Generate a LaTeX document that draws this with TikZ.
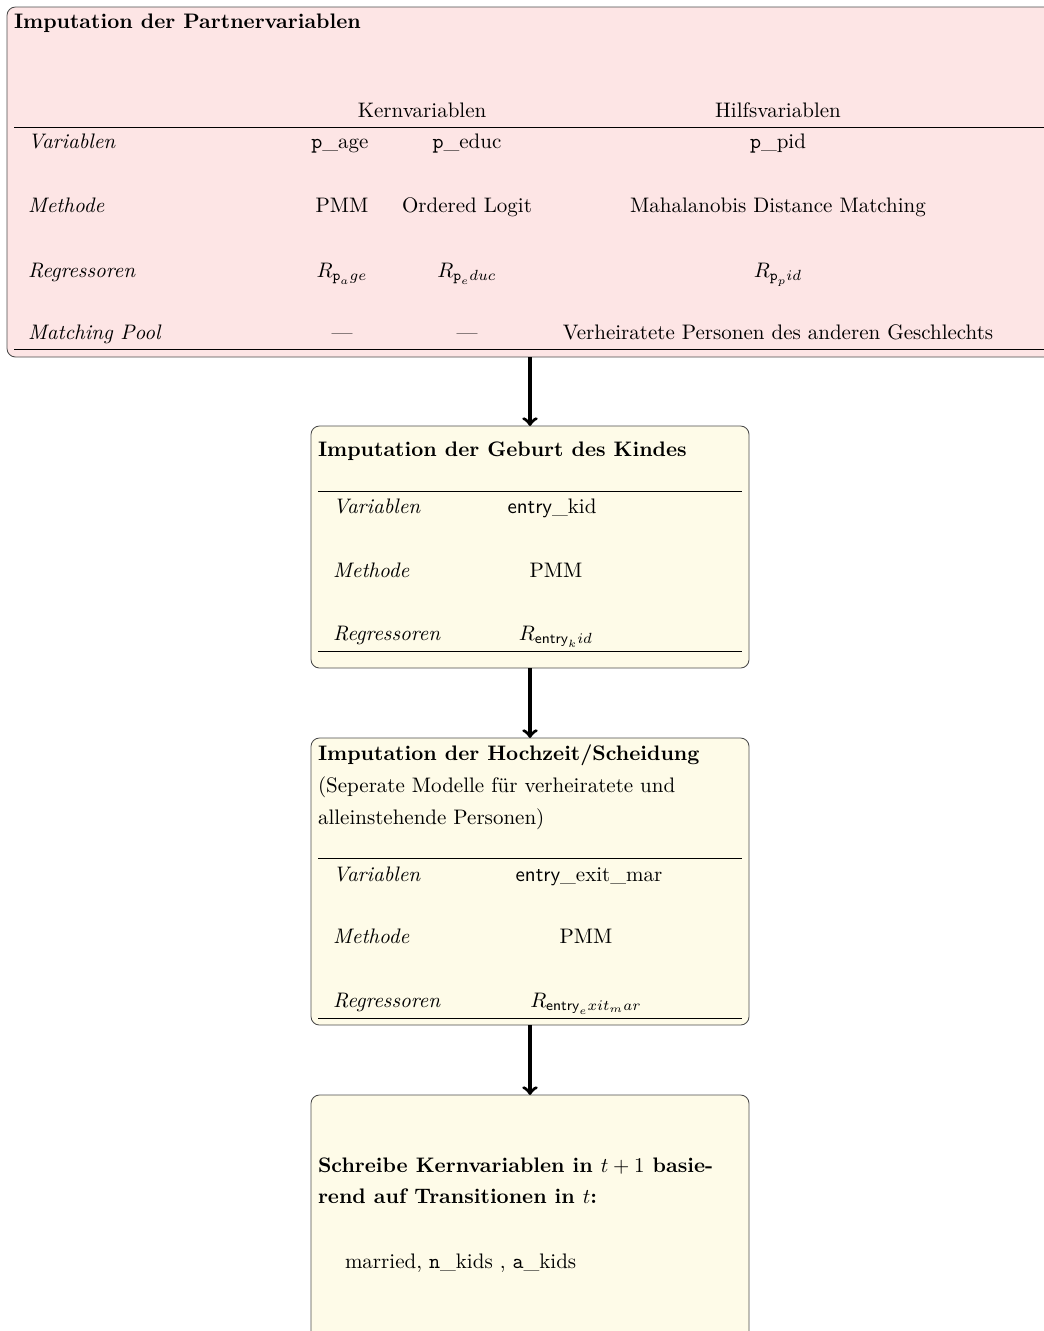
\documentclass[tikz,border=0pt]{standalone}
\usepackage{amsmath}
\usepackage{tikz}
\usetikzlibrary{fit}

\definecolor{partnerred}{RGB}{253,229,229}
\definecolor{stepyellow}{RGB}{254,251,232}

\begin{document}
\begin{tikzpicture}[x=0.47619pt,y=-0.47619pt,>=to]
    \tikzstyle{every node}=[inner sep=0pt,outer sep=0pt];
    \tikzstyle{box}=[draw=black!70,rounded corners=4pt,inner sep=0pt];
    \tikzstyle{boxtitle}=[anchor=base west,font=\bfseries];
    \tikzstyle{rowlabel}=[anchor=base west,font=\itshape];
    \tikzstyle{cell}=[anchor=base];
    \tikzstyle{tablerule}=[draw,line width=0.45pt];
    \tikzstyle{flow}=[->,line width=1.6pt];

    \useasboundingbox (0,0) rectangle (1043,1331);

    % Partnervariablen
    \node[box,fill=partnerred,fit={(7,7) (1080,357)}] (partner) {};
    \node[boxtitle] (ptitle) at (14,28) {Imputation der Partnervariablen};
    \node[cell] (kern) at (422,117) {Kernvariablen};
    \node[cell] (hilf) at (778,117) {Hilfsvariablen};
    \draw[tablerule] (14,127) -- (1080,127);
    \node[rowlabel] (pvar) at (28,148) {Variablen};
    \node[cell] (page) at (340,148) {\texttt{p}\_age};
    \node[cell] (peduc) at (467,148) {\texttt{p}\_educ};
    \node[cell] (ppid) at (778,148) {\texttt{p}\_pid};
    \node[rowlabel] (pmeth) at (28,212) {Methode};
    \node[cell] (pmm1) at (342,212) {PMM};
    \node[cell] (ologit) at (467,212) {Ordered Logit};
    \node[cell] (mahal) at (778,212) {Mahalanobis Distance Matching};
    \node[rowlabel] (preg) at (28,277) {Regressoren};
    \node[cell] (rage) at (342,277) {$R_{\texttt{p}_age}$};
    \node[cell] (reduc) at (467,277) {$R_{\texttt{p}_educ}$};
    \node[cell] (rpid) at (778,277) {$R_{\texttt{p}_pid}$};
    \node[rowlabel] (ppool) at (28,339) {Matching Pool};
    \node[cell] (pool1) at (342,339) {---};
    \node[cell] (pool2) at (467,339) {---};
    \node[cell] (pool3) at (778,339) {Verheiratete Personen des anderen Geschlechts};
    \draw[tablerule] (14,349) -- (1080,349);

    % Geburt des Kindes
    \node[box,fill=stepyellow,fit={(311,426) (749,668)}] (kid) {};
    \node[boxtitle] (ktitle) at (318,456) {Imputation der Geburt des Kindes};
    \draw[tablerule] (318,491) -- (742,491);
    \node[rowlabel] (kvar) at (333,513) {Variablen};
    \node[cell] (kentry) at (552,513) {\textsf{entry}\_kid};
    \node[rowlabel] (kmeth) at (333,577) {Methode};
    \node[cell] (pmm2) at (556,577) {PMM};
    \node[rowlabel] (kreg) at (333,640) {Regressoren};
    \node[cell] (rkid) at (556,640) {$R_{\textsf{entry}_kid}$};
    \draw[tablerule] (318,651) -- (742,651);

    % Hochzeit/Scheidung
    \node[box,fill=stepyellow,fit={(311,738) (749,1025)}] (mar) {};
    \node[boxtitle] (mtitle) at (318,760) {Imputation der Hochzeit/Scheidung};
    \node[anchor=base west] (mnote1) at (318,792) {(Seperate Modelle f\"ur verheiratete und};
    \node[anchor=base west] (mnote2) at (318,824) {alleinstehende Personen)};
    \draw[tablerule] (318,858) -- (742,858);
    \node[rowlabel] (mvar) at (333,881) {Variablen};
    \node[cell] (mentry) at (589,881) {\textsf{entry}\_exit\_mar};
    \node[rowlabel] (mmeth) at (333,943) {Methode};
    \node[cell] (pmm3) at (586,943) {PMM};
    \node[rowlabel] (mreg) at (333,1007) {Regressoren};
    \node[cell] (rmar) at (586,1007) {$R_{\textsf{entry}_exit_mar}$};
    \draw[tablerule] (318,1018) -- (742,1018);

    % Kernvariablen schreiben
    \node[box,fill=stepyellow,fit={(311,1095) (749,1400)}] (write) {};
    \node[boxtitle] (wtitle1) at (318,1172) {Schreibe Kernvariablen in $t+1$ basie-};
    \node[boxtitle] (wtitle2) at (318,1203) {rend auf Transitionen in $t$:};
    \node[anchor=base west] (wvars) at (345,1268) {married, \texttt{n}\_kids , \texttt{a}\_kids};

    \draw[flow] (kid.north |- partner.south) -- (kid.north);
    \draw[flow] (kid) -- (mar);
    \draw[flow] (mar) -- (write);

\end{tikzpicture}
\end{document}
